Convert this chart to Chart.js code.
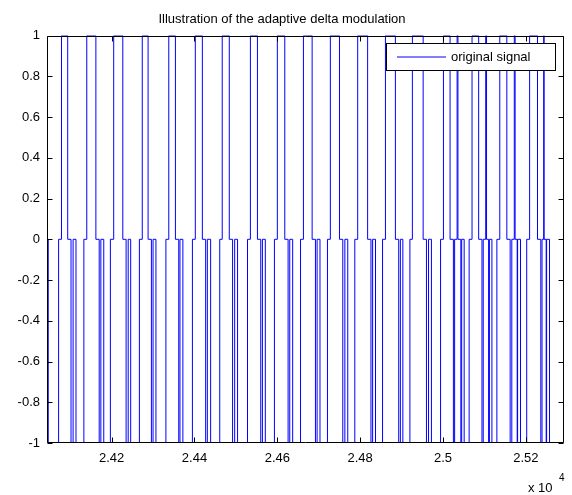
<!DOCTYPE html>
<html><head><meta charset="utf-8">
<script src="https://cdn.jsdelivr.net/npm/chart.js@4/dist/chart.umd.min.js"></script>
<style>html,body{margin:0;padding:0;background:#fff}</style>
</head><body>
<canvas id="c" width="572" height="495"></canvas>
<script>
// ---- data ----
const titleText = "Illustration of the adaptive delta modulation";
const seriesName = "original signal";
const xRange = [24044, 25292];
const xTicks = [24200, 24400, 24600, 24800, 25000, 25200];
const xTickLabels = ["2.42", "2.44", "2.46", "2.48", "2.5", "2.52"];
const yTicks = [-1, -0.8, -0.6, -0.4, -0.2, 0, 0.2, 0.4, 0.6, 0.8, 1];
const yTickLabels = ["-1", "-0.8", "-0.6", "-0.4", "-0.2", "0", "0.2", "0.4", "0.6", "0.8", "1"];
// sample positions where the signal changes level, and the level it takes there
const stepX = [
  24044,24047,24072,24079,24094,24102,24107,24114,24133,24140,
  24162,24170,24174,24181,24197,24205,24227,24235,24240,24246,
  24267,24274,24288,24296,24300,24307,24331,24338,24354,24362,
  24365,24372,24395,24402,24419,24427,24431,24439,24461,24467,
  24484,24492,24497,24504,24528,24535,24552,24560,24564,24571,
  24593,24600,24618,24626,24630,24637,24656,24663,24684,24692,
  24696,24703,24721,24728,24750,24758,24763,24770,24787,24794,
  24818,24826,24830,24837,24854,24861,24885,24893,24897,24903,
  24920,24926,24952,24960,24965,24972,24994,25001,25017,25025,
  25028,25034,25036,25043,25045,25051,25063,25070,25086,25094,
  25097,25103,25105,25110,25112,25118,25130,25137,25154,25162,
  25166,25172,25174,25179,25180,25187,25202,25209,25228,25236,
  25239,25243,25244,25249,25250,25257,25287,25292];
const stepLevel = [
  -1,0,-1,0,1,0,-1,0,-1,0,
  1,0,-1,0,-1,0,1,0,-1,0,
  -1,0,1,0,-1,0,-1,0,1,0,
  -1,0,-1,0,1,0,-1,0,-1,0,
  1,0,-1,0,-1,0,1,0,-1,0,
  -1,0,1,0,-1,0,-1,0,1,0,
  -1,0,-1,0,1,0,-1,0,-1,0,
  1,0,-1,0,-1,0,1,0,-1,0,
  -1,0,1,0,-1,0,-1,0,1,0,
  -1,0,1,0,-1,0,-1,0,1,0,
  -1,0,1,0,-1,0,-1,0,1,0,
  -1,0,1,0,-1,0,-1,0,1,0,
  -1,0,1,0,-1,0,-1,-1];

const FONT = "'Liberation Sans', Arial, Helvetica, sans-serif";
const points = stepX.map((x, i) => ({x: x, y: stepLevel[i]}));

const matlabFrame = {
  id: 'matlabFrame',
  afterDatasetsDraw(chart) {
    const ctx = chart.ctx, a = chart.chartArea;
    const xs = chart.scales.x, ys = chart.scales.y;
    ctx.save();
    ctx.strokeStyle = '#000';
    ctx.lineWidth = 1;
    const L = Math.round(a.left) + 0.5, R = Math.round(a.right) - 0.5;
    const T = Math.round(a.top) + 0.5, B = Math.round(a.bottom) - 0.5;
    ctx.beginPath();
    ctx.rect(L, T, R - L, B - T);
    const tl = 5;
    xTicks.forEach(v => {
      const p = Math.round(xs.getPixelForValue(v)) + 0.5;
      ctx.moveTo(p, B); ctx.lineTo(p, B - tl);
      ctx.moveTo(p, T); ctx.lineTo(p, T + tl);
    });
    yTicks.forEach(v => {
      const p = Math.round(ys.getPixelForValue(v)) + 0.5;
      ctx.moveTo(L, p); ctx.lineTo(L + tl, p);
      ctx.moveTo(R, p); ctx.lineTo(R - tl, p);
    });
    ctx.stroke();
    // legend box
    const lx = 386.5, ly = 43.5, lw = 169, lh = 27;
    ctx.fillStyle = '#fff';
    ctx.fillRect(lx, ly, lw, lh);
    ctx.strokeRect(lx, ly, lw, lh);
    const ds = chart.data.datasets[0];
    ctx.strokeStyle = ds.borderColor;
    ctx.beginPath();
    ctx.moveTo(397, ly + lh / 2); ctx.lineTo(446, ly + lh / 2);
    ctx.stroke();
    ctx.fillStyle = '#000';
    ctx.font = '13px ' + FONT;
    ctx.textBaseline = 'middle';
    ctx.textAlign = 'left';
    ctx.fillText(ds.label, 451, ly + lh / 2 + 0.5);
    // exponent label
    ctx.fillText('x 10', 528, 488);
    ctx.font = '10px ' + FONT;
    ctx.fillText('4', 559, 478);
    ctx.restore();
  }
};

new Chart(document.getElementById('c'), {
  type: 'line',
  data: {
    datasets: [{
      label: seriesName,
      data: points,
      borderColor: '#0000ff',
      backgroundColor: '#0000ff',
      borderWidth: 1,
      pointRadius: 0,
      stepped: 'after',
      fill: false
    }]
  },
  options: {
    responsive: false,
    animation: false,
    devicePixelRatio: 1,
    layout: {padding: {top: 0, right: 8, left: 0, bottom: 0}},
    plugins: {
      legend: {display: false},
      tooltip: {enabled: false},
      title: {
        display: true,
        text: titleText,
        color: '#000',
        font: {family: FONT, size: 13, weight: 'normal'},
        padding: {top: 12, bottom: 8}
      }
    },
    scales: {
      x: {
        type: 'linear',
        min: xRange[0], max: xRange[1],
        afterBuildTicks: s => { s.ticks = xTicks.map(v => ({value: v})); },
        afterFit: s => { s.height = 52; },
        grid: {display: false, drawTicks: false},
        border: {display: false},
        ticks: {
          autoSkip: false, maxRotation: 0, padding: 8, color: '#000',
          font: {family: FONT, size: 13},
          callback: (v) => { const i = xTicks.indexOf(v); return i >= 0 ? xTickLabels[i] : ''; }
        }
      },
      y: {
        type: 'linear',
        min: -1, max: 1,
        afterBuildTicks: s => { s.ticks = yTicks.map(v => ({value: v})); },
        afterFit: s => { s.width = 47; },
        grid: {display: false, drawTicks: false},
        border: {display: false},
        ticks: {
          autoSkip: false, padding: 7, color: '#000',
          font: {family: FONT, size: 13},
          callback: (v) => { const i = yTicks.findIndex(t => Math.abs(t - v) < 1e-9); return i >= 0 ? yTickLabels[i] : ''; }
        }
      }
    }
  },
  plugins: [matlabFrame]
});
</script>
</body></html>
